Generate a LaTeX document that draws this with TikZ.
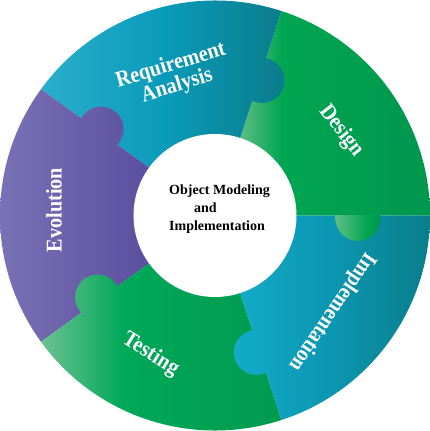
\documentclass[tikz,border=0pt]{standalone}
\usepackage{fontspec}
\setmainfont{Liberation Serif}
\newfontfamily\narrowserif[FakeStretch=0.9]{Liberation Serif}

% segment colours
\definecolor{dsA}{HTML}{5EBD85}
\definecolor{dsB}{HTML}{00A651}
\definecolor{dsC}{HTML}{00964E}
\definecolor{rqA}{HTML}{2AAECB}
\definecolor{rqB}{HTML}{0A9BBA}
\definecolor{rqC}{HTML}{0A7C8A}
\definecolor{evA}{HTML}{7C75B8}
\definecolor{evB}{HTML}{5B4F9E}
\definecolor{tsA}{HTML}{6CC190}
\definecolor{tsB}{HTML}{00A859}
\definecolor{tsC}{HTML}{009A4E}
\definecolor{imA}{HTML}{13ABCA}
\definecolor{imB}{HTML}{0B96B0}
\definecolor{imC}{HTML}{0A7E8B}

% horizontal fills; the path's box spans 25bp..75bp
\pgfdeclarehorizontalshading{designfill}{100bp}{color(0bp)=(dsA); color(25bp)=(dsA); color(36bp)=(dsB); color(75bp)=(dsC); color(100bp)=(dsC)}
\pgfdeclarehorizontalshading{knobfill}{100bp}{color(0bp)=(dsA); color(25bp)=(dsA); color(60bp)=(dsB); color(75bp)=(dsC); color(100bp)=(dsC)}
\pgfdeclarehorizontalshading{reqfill}{100bp}{color(0bp)=(rqA); color(25bp)=(rqA); color(50bp)=(rqB); color(75bp)=(rqC); color(100bp)=(rqC)}
\pgfdeclarehorizontalshading{evofill}{100bp}{color(0bp)=(evA); color(25bp)=(evA); color(75bp)=(evB); color(100bp)=(evB)}
\pgfdeclarehorizontalshading{testfill}{100bp}{color(0bp)=(tsA); color(25bp)=(tsA); color(42bp)=(tsB); color(75bp)=(tsC); color(100bp)=(tsC)}
\pgfdeclarehorizontalshading{implfill}{100bp}{color(0bp)=(imA); color(25bp)=(imA); color(50bp)=(imB); color(75bp)=(imC); color(100bp)=(imC)}

% annular sector between two angles
\newcommand\ringsector[2]{(#1:215) arc[start angle=#1, end angle=#2, radius=215] -- (#2:80) arc[start angle=#2, end angle=#1, radius=80] -- cycle}
% puzzle knob sitting on the boundary at angle #1
\newcommand\knob[1]{(#1-1.2:143) circle[radius=22.5]}

\begin{document}
\begin{tikzpicture}[x=1pt,y=1pt,
  seglabel/.style={text=white, inner sep=0pt, align=center,
    font=\narrowserif\bfseries\fontsize{22.5}{20}\selectfont},
  hublabel/.style={text=black, inner sep=0pt, anchor=base west,
    font=\bfseries\fontsize{14}{16}\selectfont}]
\useasboundingbox (-215,-215.5) rectangle (215,215.5);

% ring segments, each with the knob on its clockwise side
\shade[shading=designfill] \ringsector{0}{72};
\shade[shading=reqfill]   \ringsector{72}{144} \knob{72};
\shade[shading=evofill]   \ringsector{144}{216} \knob{144};
\shade[shading=testfill]  \ringsector{216}{288} \knob{216};
\shade[shading=implfill]  \ringsector{288}{360} \knob{288};
\begin{scope}
  \clip (-215,0) rectangle (215,-215);
  \shade[shading=knobfill] \knob{0};
\end{scope}

% hub
\node[circle, fill=white, minimum size=163pt, inner sep=0pt] (hub) at (0,0) {};
\node[hublabel] (t1) at (-46,20.5) {Object Modeling};
\node[hublabel] (t2) at (-21,2.8) {and};
\node[hublabel] (t3) at (-46,-14.5) {Implementation};

% segment labels
\node[seglabel, rotate=17] (req) at (-41,139.5) {Requirement\\Analysis};
\node[seglabel, rotate=-52] (des) at (126,84.5) {Design};
\node[seglabel, rotate=-124] (imp) at (117,-96.5) {Implementation};
\node[seglabel, rotate=-32] (tst) at (-64.5,-139) {Testing};
\node[seglabel, rotate=90] (evo) at (-161,5.5) {Evolution};
\end{tikzpicture}
\end{document}
